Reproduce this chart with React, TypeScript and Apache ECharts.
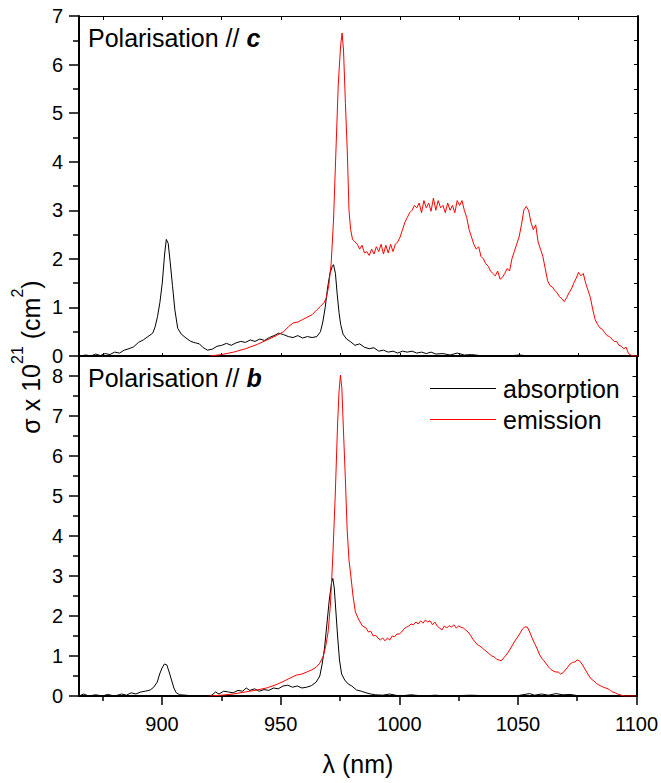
import React, { useEffect, useRef } from "react";
import * as echarts from "echarts";

// ---- data ----
const xMajorTicks = [900, 950, 1000, 1050, 1100];
const xMinorTicks = [875, 925, 975, 1025, 1075];
const xAllTicks = [875, 900, 925, 950, 975, 1000, 1025, 1050, 1075, 1100];
const yTopLabels = [0, 1, 2, 3, 4, 5, 6, 7];
const yBottomLabels = [0, 1, 2, 3, 4, 5, 6, 7, 8];
const yBottomMinor = [0.5, 1.5, 2.5, 3.5, 4.5, 5.5, 6.5, 7.5];
const yTopRightTicks = [0.5, 1, 1.5, 2, 2.5, 3, 3.5, 4, 4.5, 5, 5.5, 6, 6.5];
const yBottomRightTicks = [0.5, 1, 1.5, 2, 2.5, 3, 3.5, 4, 4.5, 5, 5.5, 6, 6.5, 7, 7.5, 8];

const absorptionC: [number, number][] = [
  [865, 0.0], [868, 0.02], [870, 0.0], [872, 0.04], [874, 0.01], [876, 0.05], [878, 0.03],
  [880, 0.08], [882, 0.06], [884, 0.12], [886, 0.15], [888, 0.19], [890, 0.28], [892, 0.33],
  [894, 0.4], [896, 0.47], [897, 0.6], [898, 0.81], [899, 1.1], [900, 1.5], [901, 2.1],
  [901.7, 2.4], [902.5, 2.32], [903.3, 1.95], [904.3, 1.45], [905.3, 0.95], [906.5, 0.57],
  [908, 0.45], [910, 0.37], [912, 0.3], [914, 0.27], [915.6, 0.25], [917, 0.18], [919, 0.12],
  [921, 0.14], [923, 0.2], [925, 0.22], [927, 0.26], [929, 0.22], [931, 0.27], [933, 0.3],
  [935, 0.28], [937, 0.33], [939, 0.3], [941, 0.35], [943, 0.32], [945, 0.38], [947, 0.42],
  [949, 0.47], [951, 0.44], [953, 0.4], [955, 0.38], [957, 0.42], [959, 0.37], [961, 0.4],
  [963, 0.38], [965, 0.4], [966.5, 0.5], [967.5, 0.7], [968.5, 1.0], [969.5, 1.4], [970.5, 1.7],
  [971.5, 1.85], [972, 1.88], [972.8, 1.7], [973.5, 1.3], [974.3, 0.9], [975, 0.65], [976, 0.45],
  [977.5, 0.35], [979, 0.3], [981, 0.22], [983, 0.25], [985, 0.18], [987, 0.15], [989, 0.17],
  [991, 0.1], [993, 0.12], [995, 0.08], [997, 0.1], [999, 0.06], [1001, 0.1], [1003, 0.08],
  [1005, 0.1], [1007, 0.06], [1009, 0.08], [1011, 0.05], [1013, 0.08], [1015, 0.04], [1018, 0.05],
  [1021, 0.02], [1024, 0.06], [1027, 0.02], [1030, 0.03], [1035, 0.0], [1040, 0.01], [1045, 0.0],
  [1050, 0.02], [1055, 0.0], [1060, 0.01], [1065, 0.0], [1070, 0.0], [1075, 0.01], [1080, 0.0],
];

const emissionC: [number, number][] = [
  [920, 0.0], [925, 0.03], [930, 0.08], [935, 0.15], [940, 0.24], [944, 0.33], [948, 0.42],
  [951, 0.5], [953, 0.6], [955, 0.68], [957, 0.7], [959, 0.75], [961, 0.8], [963, 0.85],
  [965, 0.95], [966.5, 1.02], [968, 1.1], [969, 1.2], [970, 1.45], [971, 1.9], [972, 2.8],
  [973, 4.2], [974, 5.6], [975, 6.4], [975.6, 6.65], [976.2, 6.3], [977, 5.2], [977.8, 4.2],
  [978.5, 3.0], [979.2, 2.6], [980, 2.4], [981, 2.35], [982, 2.3], [983, 2.2], [984, 2.28],
  [985, 2.12], [986, 2.15], [987, 2.07], [988, 2.2], [989, 2.1], [990, 2.25], [991, 2.15],
  [992, 2.3], [993, 2.1], [994, 2.28], [995, 2.12], [996, 2.3], [997, 2.15], [998, 2.3],
  [999, 2.35], [1000, 2.45], [1001, 2.6], [1002, 2.75], [1003, 2.85], [1004, 2.95], [1005, 3.0],
  [1006, 3.1], [1007, 3.05], [1008, 3.15], [1009, 2.95], [1010, 3.2], [1011, 3.05], [1012, 3.15],
  [1013, 2.98], [1014, 3.25], [1015, 3.0], [1016, 3.2], [1017, 3.05], [1018, 3.1], [1019, 2.95],
  [1020, 3.15], [1021, 3.0], [1022, 3.1], [1023, 2.95], [1024, 3.2], [1025, 3.1], [1026, 3.2],
  [1027, 3.0], [1028, 2.85], [1029, 2.6], [1030, 2.45], [1031, 2.3], [1032, 2.2], [1033, 2.25],
  [1034, 2.05], [1035, 2.0], [1036, 1.9], [1037, 1.85], [1038, 1.75], [1039, 1.7], [1040, 1.65],
  [1041, 1.75], [1042, 1.58], [1043, 1.62], [1044, 1.7], [1045, 1.8], [1046, 1.75], [1047, 2.0],
  [1048, 2.15], [1049, 2.3], [1050, 2.45], [1051, 2.7], [1052, 3.0], [1053, 3.08], [1054, 3.0],
  [1055, 2.75], [1056, 2.6], [1057, 2.7], [1058, 2.35], [1059, 2.2], [1060, 2.05], [1061, 1.8],
  [1062, 1.55], [1063, 1.45], [1064, 1.42], [1065, 1.35], [1066, 1.3], [1067, 1.22], [1068, 1.18],
  [1069, 1.12], [1070, 1.2], [1071, 1.3], [1072, 1.38], [1073, 1.5], [1074, 1.6], [1075, 1.72],
  [1076, 1.65], [1077, 1.7], [1078, 1.5], [1079, 1.35], [1080, 1.2], [1081, 0.95], [1082, 0.75],
  [1083, 0.65], [1084, 0.58], [1085, 0.55], [1086, 0.48], [1087, 0.42], [1088, 0.4], [1089, 0.35],
  [1090, 0.3], [1091, 0.3], [1092, 0.22], [1093, 0.2], [1094, 0.15], [1095, 0.18], [1096, 0.05],
  [1097, 0.02], [1098, 0.0], [1100, 0.0],
];

const absorptionB: [number, number][] = [
  [865, 0.0], [867, 0.05], [869, 0.0], [872, 0.03], [875, 0.0], [877, 0.04], [880, 0.0],
  [883, 0.05], [885, 0.02], [887, 0.08], [889, 0.05], [891, 0.1], [893, 0.12], [895, 0.15],
  [896.5, 0.22], [898, 0.35], [899, 0.55], [900, 0.7], [901, 0.8], [902, 0.78], [903, 0.6],
  [904, 0.4], [905, 0.2], [906, 0.08], [907.5, 0.03], [910, 0.02], [913, 0.0], [916, 0.01],
  [919, 0.0], [921, 0.02], [922.5, 0.1], [924, 0.05], [926, 0.12], [928, 0.1], [930, 0.08],
  [932, 0.14], [934, 0.12], [935.5, 0.2], [937, 0.14], [939, 0.18], [941, 0.12], [943, 0.16],
  [945, 0.14], [947, 0.2], [949, 0.18], [951, 0.25], [953, 0.27], [955, 0.22], [957, 0.25],
  [959, 0.2], [961, 0.22], [963, 0.26], [965, 0.35], [966.5, 0.5], [967.5, 0.8], [968.5, 1.2],
  [969.5, 1.8], [970.5, 2.4], [971.5, 2.85], [972, 2.94], [972.6, 2.7], [973.3, 2.1], [974, 1.5],
  [974.8, 0.9], [975.7, 0.55], [977, 0.4], [978.5, 0.3], [980, 0.25], [982, 0.15], [984, 0.12],
  [986, 0.08], [988, 0.05], [990, 0.03], [993, 0.02], [996, 0.05], [1000, 0.0], [1005, 0.03],
  [1010, 0.0], [1015, 0.02], [1020, 0.0], [1030, 0.02], [1040, 0.0], [1050, 0.01], [1053, 0.04],
  [1055, 0.06], [1057, 0.02], [1060, 0.05], [1063, 0.02], [1066, 0.06], [1069, 0.03], [1072, 0.04],
  [1075, 0.01], [1080, 0.0], [1090, 0.01], [1100, 0.0],
];

const emissionB: [number, number][] = [
  [920, 0.0], [925, 0.02], [930, 0.05], [935, 0.1], [940, 0.15], [944, 0.2], [948, 0.28],
  [951, 0.36], [954, 0.45], [956.5, 0.52], [959, 0.55], [961, 0.6], [963, 0.65], [965, 0.72],
  [966.5, 0.82], [968, 1.0], [969, 1.25], [970, 1.6], [971, 2.3], [972, 3.5], [973, 5.0],
  [974, 6.8], [974.6, 7.6], [975.2, 8.02], [975.8, 7.7], [976.5, 6.6], [977.3, 5.4], [978, 4.2],
  [978.8, 3.4], [979.6, 3.0], [980.5, 2.5], [981.5, 2.1], [983, 1.9], [984.5, 1.75], [986, 1.7],
  [987, 1.6], [988, 1.62], [989, 1.5], [990, 1.52], [991, 1.45], [992, 1.4], [993, 1.45],
  [994, 1.38], [995, 1.45], [996, 1.4], [997, 1.5], [998, 1.48], [999, 1.55], [1000, 1.55],
  [1001, 1.6], [1002, 1.68], [1003, 1.72], [1004, 1.75], [1005, 1.8], [1006, 1.78], [1007, 1.85],
  [1008, 1.8], [1009, 1.88], [1010, 1.82], [1011, 1.9], [1012, 1.85], [1013, 1.88], [1014, 1.78],
  [1015, 1.85], [1016, 1.75], [1017, 1.7], [1018, 1.65], [1019, 1.75], [1020, 1.7], [1021, 1.76],
  [1022, 1.72], [1023, 1.78], [1024, 1.7], [1025, 1.75], [1026, 1.72], [1027, 1.7], [1028, 1.65],
  [1029, 1.6], [1030, 1.52], [1031, 1.42], [1032, 1.35], [1033, 1.28], [1034, 1.25], [1035, 1.2],
  [1036, 1.15], [1037, 1.1], [1038, 1.05], [1039, 1.0], [1040, 0.98], [1041, 0.92], [1042, 0.9],
  [1043, 0.88], [1044, 0.95], [1045, 1.02], [1046, 1.1], [1047, 1.2], [1048, 1.3], [1049, 1.4],
  [1050, 1.48], [1051, 1.58], [1052, 1.68], [1053, 1.73], [1054, 1.72], [1055, 1.6], [1056, 1.45],
  [1057, 1.32], [1058, 1.2], [1059, 1.05], [1060, 0.95], [1061, 0.88], [1062, 0.8], [1063, 0.72],
  [1064, 0.66], [1065, 0.62], [1066, 0.6], [1067, 0.6], [1068, 0.55], [1069, 0.58], [1070, 0.65],
  [1071, 0.72], [1072, 0.8], [1073, 0.84], [1074, 0.85], [1075, 0.9], [1076, 0.88], [1077, 0.8],
  [1078, 0.7], [1079, 0.6], [1080, 0.5], [1081, 0.42], [1082, 0.38], [1083, 0.32], [1084, 0.28],
  [1085, 0.25], [1086, 0.22], [1087, 0.2], [1088, 0.18], [1089, 0.14], [1090, 0.1], [1091, 0.08],
  [1092, 0.05], [1093, 0.03], [1095, 0.0], [1100, 0.0],
];

const FONT = "'Liberation Sans', Arial, sans-serif";
const BLACK = "#000000";
const RED = "#ff0000";

export default function App() {
  const ref = useRef<HTMLDivElement>(null);

  useEffect(() => {
    if (!ref.current) return;
    const chart = echarts.init(ref.current, undefined, { renderer: "svg" });

    const X_MIN = 865;
    const X_MAX = 1100;
    const line2 = { show: true, onZero: false, lineStyle: { color: BLACK, width: 2 } };
    const noSplit = { show: false };
    const plain = (v: number) => String(v);

    const option: any = {
      animation: false,
      backgroundColor: "#ffffff",
      textStyle: { fontFamily: FONT, color: BLACK },
      grid: [
        { left: 79, top: 16, width: 559, height: 340, containLabel: false },
        { left: 79, top: 356, width: 559, height: 340, containLabel: false },
      ],
      xAxis: [
        {
          gridIndex: 0, type: "value", position: "bottom", min: X_MIN, max: X_MAX,
          axisLine: line2,
          axisTick: { show: true, inside: true, length: 3, customValues: xAllTicks, lineStyle: { color: BLACK, width: 1 } },
          axisLabel: { show: false }, splitLine: noSplit,
        },
        {
          gridIndex: 0, type: "value", position: "top", min: X_MIN, max: X_MAX,
          axisLine: { show: true, onZero: false, lineStyle: { color: BLACK, width: 1 } },
          axisTick: { show: true, inside: true, length: 4, customValues: xAllTicks, lineStyle: { color: BLACK, width: 1 } },
          axisLabel: { show: false }, splitLine: noSplit,
        },
        {
          gridIndex: 1, type: "value", position: "bottom", min: X_MIN, max: X_MAX,
          axisLine: line2,
          axisTick: { show: true, inside: false, length: 9, customValues: xMajorTicks, lineStyle: { color: BLACK, width: 1.5 } },
          axisLabel: { show: true, customValues: xMajorTicks, formatter: plain, fontSize: 20, margin: 18, color: BLACK, fontFamily: FONT },
          splitLine: noSplit,
        },
        {
          gridIndex: 1, type: "value", position: "bottom", min: X_MIN, max: X_MAX,
          axisLine: { show: false, onZero: false },
          axisTick: { show: true, inside: false, length: 5, customValues: xMinorTicks, lineStyle: { color: BLACK, width: 1.5 } },
          axisLabel: { show: false }, splitLine: noSplit,
        },
      ],
      yAxis: [
        {
          gridIndex: 0, type: "value", position: "left", min: 0, max: 7, interval: 1,
          axisLine: line2,
          axisTick: { show: true, inside: false, length: 10, lineStyle: { color: BLACK, width: 1.5 } },
          minorTick: { show: true, splitNumber: 2, length: 6, lineStyle: { color: BLACK, width: 1.5 } },
          axisLabel: { show: true, customValues: yTopLabels, formatter: plain, fontSize: 20, margin: 16, color: BLACK, fontFamily: FONT },
          splitLine: noSplit, minorSplitLine: { show: false },
        },
        {
          gridIndex: 0, type: "value", position: "right", min: 0, max: 7,
          axisLine: line2,
          axisTick: { show: true, inside: true, length: 4, customValues: yTopRightTicks, lineStyle: { color: BLACK, width: 1 } },
          axisLabel: { show: false }, splitLine: noSplit,
        },
        {
          gridIndex: 1, type: "value", position: "left", min: 0, max: 8.5,
          axisLine: line2,
          axisTick: { show: true, inside: false, length: 10, customValues: yBottomLabels, lineStyle: { color: BLACK, width: 1.5 } },
          axisLabel: { show: true, customValues: yBottomLabels, formatter: plain, fontSize: 20, margin: 16, color: BLACK, fontFamily: FONT },
          splitLine: noSplit,
        },
        {
          gridIndex: 1, type: "value", position: "left", min: 0, max: 8.5,
          axisLine: { show: false, onZero: false },
          axisTick: { show: true, inside: false, length: 6, customValues: yBottomMinor, lineStyle: { color: BLACK, width: 1.5 } },
          axisLabel: { show: false }, splitLine: noSplit,
        },
        {
          gridIndex: 1, type: "value", position: "right", min: 0, max: 8.5,
          axisLine: line2,
          axisTick: { show: true, inside: true, length: 4, customValues: yBottomRightTicks, lineStyle: { color: BLACK, width: 1 } },
          axisLabel: { show: false }, splitLine: noSplit,
        },
      ],
      legend: {
        data: [
          { name: "absorption", icon: "rect", itemStyle: { color: BLACK } },
          { name: "emission", icon: "rect", itemStyle: { color: RED } },
        ],
        orient: "vertical",
        left: 430,
        top: 376,
        itemWidth: 66,
        itemHeight: 1,
        itemGap: 6,
        padding: 0,
        textStyle: { fontSize: 25, color: BLACK, fontFamily: FONT, padding: [0, 0, 0, 2] },
      },
      series: [
        { name: "absorption", type: "line", xAxisIndex: 0, yAxisIndex: 0, data: absorptionC, symbol: "none", showSymbol: false, lineStyle: { color: BLACK, width: 1 }, itemStyle: { color: BLACK } },
        { name: "emission", type: "line", xAxisIndex: 0, yAxisIndex: 0, data: emissionC, symbol: "none", showSymbol: false, lineStyle: { color: RED, width: 1 }, itemStyle: { color: RED } },
        { name: "absorption", type: "line", xAxisIndex: 2, yAxisIndex: 2, data: absorptionB, symbol: "none", showSymbol: false, lineStyle: { color: BLACK, width: 1 }, itemStyle: { color: BLACK } },
        { name: "emission", type: "line", xAxisIndex: 2, yAxisIndex: 2, data: emissionB, symbol: "none", showSymbol: false, lineStyle: { color: RED, width: 1 }, itemStyle: { color: RED } },
      ],
      graphic: [
        {
          type: "text", x: 88, y: 37.5,
          style: {
            text: "Polarisation // {bi|c}",
            fontSize: 25, fontFamily: FONT, fill: BLACK, verticalAlign: "middle",
            rich: { bi: { fontSize: 25, fontWeight: "bold", fontStyle: "italic", fontFamily: FONT, fill: BLACK } },
          },
        },
        {
          type: "text", x: 88, y: 377.5,
          style: {
            text: "Polarisation // {bi|b}",
            fontSize: 25, fontFamily: FONT, fill: BLACK, verticalAlign: "middle",
            rich: { bi: { fontSize: 25, fontWeight: "bold", fontStyle: "italic", fontFamily: FONT, fill: BLACK } },
          },
        },
        {
          type: "text", x: 358, y: 764,
          style: { text: "λ (nm)", fontSize: 25, fontFamily: FONT, fill: BLACK, align: "center", verticalAlign: "middle" },
        },
        {
          type: "text", x: 31, y: 357, rotation: Math.PI / 2,
          style: {
            text: "σ x 10{sup|21} (cm{sup|2})",
            fontSize: 25, lineHeight: 44, fontFamily: FONT, fill: BLACK, align: "center", verticalAlign: "middle",
            rich: { sup: { fontSize: 16, lineHeight: 16, fontFamily: FONT, fill: BLACK, verticalAlign: "top" } },
          },
        },
      ],
    };

    chart.setOption(option);
    return () => chart.dispose();
  }, []);

  return (
    <div
      ref={ref}
      style={{ position: "absolute", left: 0, top: 0, width: 661, height: 783, background: "#fff" }}
    />
  );
}
